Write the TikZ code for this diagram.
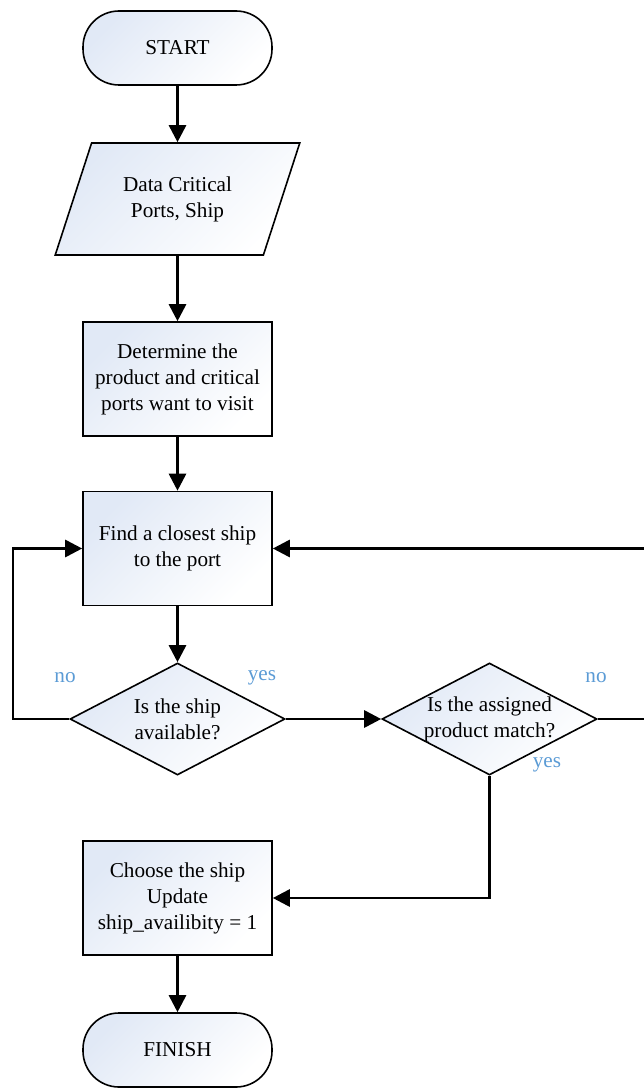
\documentclass[tikz,border=0pt]{standalone}
\usepackage{fontspec}
\setmainfont{Liberation Serif}
\usetikzlibrary{shapes.geometric,arrows.meta}
\definecolor{shapefill}{RGB}{225,233,246}
\definecolor{labelblue}{RGB}{91,155,213}
\begin{document}
\begin{tikzpicture}[x=1pt,y=-1pt,
  base/.style={draw=black, line width=1.6pt, inner sep=0pt, align=center,
    font=\fontsize{21.2}{26}\selectfont,
    top color=shapefill, bottom color=white, shading angle=45},
  terminal/.style={base, rectangle, rounded corners=36pt,
    minimum width=189pt, minimum height=74pt},
  iobox/.style={base, trapezium, trapezium left angle=63, trapezium right angle=117,
    trapezium stretches=true, minimum width=245pt, minimum height=112pt},
  process/.style={base, rectangle, minimum width=189pt, minimum height=114pt},
  decision/.style={base, diamond, minimum width=215pt, minimum height=112pt},
  dtext/.style={inner sep=0pt, align=center, font=\fontsize{21.2}{26}\selectfont},
  lbl/.style={inner sep=0pt, text=labelblue, font=\fontsize{21.2}{24}\selectfont},
  flow/.style={line width=2.8pt, -{Triangle[length=17pt,width=17pt]}},
  link/.style={line width=2.8pt}
]
\useasboundingbox (0,0) rectangle (644,1089);

% main column
\node[terminal] (start) at (177.5,48) {START};
\node[iobox] (data) at (177.5,199) {Data Critical\\Ports, Ship};
\node[process] (det) at (177.5,379) {Determine the\\product and critical\\ports want to visit};
\node[process] (find) at (177.5,548.5) {Find a closest ship\\to the port};
\node[decision] (d1) at (177.5,719) {};
\node[dtext] (d1t) at (d1) {Is the ship\\available?};
\node[decision] (d2) at (489.5,719) {};
\node[dtext] (d2t) at (d2) {Is the assigned\\product match?};
\node[process] (choose) at (177.5,898) {Choose the ship\\Update\\ship\_availibity = 1};
\node[terminal] (finish) at (177.5,1050) {FINISH};

% branch labels
\node[lbl] (no1) at (65,678) {no};
\node[lbl] (yes1) at (262,678) {yes};
\node[lbl] (no2) at (596,678) {no};
\node[lbl] (yes2) at (547,765) {yes};

% rails for the loops back
\coordinate (leftrail) at (13,0);
\coordinate (rightrail) at (646,0);

% connectors
\draw[flow] (start) -- (data);
\draw[flow] (data) -- (det);
\draw[flow] (det) -- (find);
\draw[flow] (find) -- (d1);
\draw[flow] (d1.west) -- (d1.west -| leftrail) |- (find.west);
\draw[flow] (d1.east) -- (d2.west);
\draw[flow] (d2.east) -- (d2.east -| rightrail) |- (find.east);
\draw[flow] (d2.south) |- (choose.east);
\draw[flow] (choose) -- (finish);
\end{tikzpicture}
\end{document}
